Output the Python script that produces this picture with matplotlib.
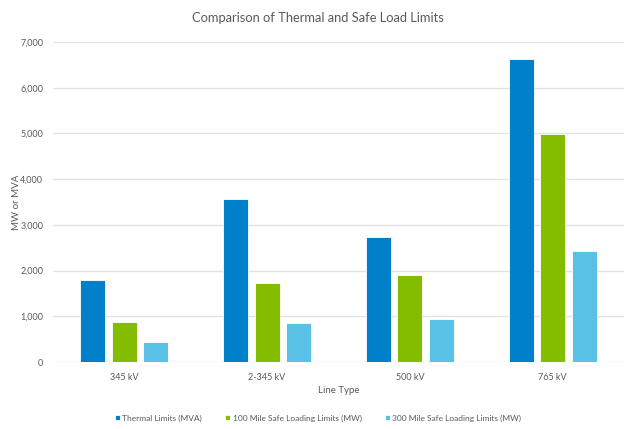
import matplotlib
matplotlib.use("Agg")
import matplotlib.pyplot as plt
import numpy as np

categories = ["345 kV", "2-345 kV", "500 kV", "765 kV"]
thermal = [1790, 3570, 2735, 6620]
mile100 = [875, 1735, 1910, 4990]
mile300 = [430, 845, 934, 2420]
series_names = ["Thermal Limits (MVA)", "100 Mile Safe Loading Limits (MW)",
                "300 Mile Safe Loading Limits (MW)"]
colors = ["#0080C8", "#84BC00", "#59C0E6"]
yticks = [0, 1000, 2000, 3000, 4000, 5000, 6000, 7000]

plt.rcParams['font.family'] = ['Lato', 'DejaVu Sans']
text_color = "#595959"

fig = plt.figure(figsize=(6.25, 4.29), dpi=100)
ax = fig.add_axes([53/625, 1 - 362/429, (624-53)/625, (362-42)/429])

x = np.arange(len(categories))
w = 0.175
gap = 0.045
offsets = [-(w + gap), 0, (w + gap)]
for vals, off, c, name in zip([thermal, mile100, mile300], offsets, colors, series_names):
    ax.bar(x + off, vals, width=w, color=c, edgecolor="#FFFFFF", linewidth=0.6,
           label=name, zorder=3)

ax.set_xlim(-0.5, len(categories) - 0.5)
ax.set_ylim(0, 7000)
ax.set_yticks(yticks)
ax.set_yticklabels([f"{v:,}" for v in yticks])
ax.set_xticks(x)
ax.set_xticklabels(categories)
ax.tick_params(axis='y', length=0, labelsize=6.5, colors=text_color, pad=7)
ax.tick_params(axis='x', length=0, labelsize=6.5, colors=text_color, pad=8)
ax.grid(axis='y', color="#E2E2E2", linewidth=1, zorder=0)
for s in ax.spines.values():
    s.set_visible(False)

ax.set_xlabel("Line Type", fontsize=7, color=text_color, labelpad=3)
ax.set_ylabel("MW or MVA", fontsize=7, color=text_color)
ax.yaxis.set_label_coords((21 - 53) / 571, 0.5)
fig.text(318/625, 1 - 18/429, "Comparison of Thermal and Safe Load Limits",
         ha="center", va="center", fontsize=9.3, color=text_color)

leg = fig.legend(loc="center", bbox_to_anchor=(318/625, 1 - 418/429), ncol=3,
                 frameon=False, fontsize=6, handlelength=0.6, handleheight=0.6,
                 handletextpad=0.3, columnspacing=2.8)
for t in leg.get_texts():
    t.set_color(text_color)

fig.savefig("out.png", dpi=100)
